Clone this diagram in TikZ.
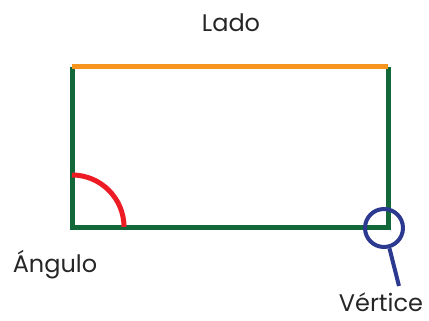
\documentclass[tikz,border=0pt]{standalone}
\usepackage{fontspec}
\setmainfont{Poppins}
\usepackage{tikz}
\usetikzlibrary{positioning}
\definecolor{SDgreen}{RGB}{18,104,56}
\definecolor{SDorange}{RGB}{247,148,29}
\definecolor{SDred}{RGB}{237,28,36}
\definecolor{SDblue}{RGB}{43,57,144}

\begin{document}
\begin{tikzpicture}[x=1pt, y=-1pt,
    lbl/.style={anchor=base, inner sep=0pt, font=\fontsize{24}{28}\selectfont, text=black!85}]
  \useasboundingbox (0,0) rectangle (429,321);
  \coordinate (tl) at (72,67);
  \coordinate (tr) at (388,67);
  \coordinate (bl) at (72,227);
  \coordinate (br) at (388,227);
  % sides
  \draw[SDgreen, line width=5pt] (tl) -- (bl) -- (br) -- (tr);
  \draw[SDorange, line width=5pt] (tl) -- (tr);
  % angle
  \draw[SDred, line width=5pt] (bl) ++(0,-52) arc[start angle=-90, end angle=0, radius=52];
  % vertex
  \node[draw=SDblue, line width=4pt, circle, minimum size=38pt, inner sep=0pt] (vert) at (384,228) {};
  \coordinate (vtail) at (399,286);
  \draw[SDblue, line width=4pt] (vert.-75) -- (vtail);
  % labels
  \node[lbl] (lado) at (231,32) {Lado};
  \node[lbl] (angulo) at (55,272) {Ángulo};
  \node[lbl] (vertice) at (381,311) {Vértice};
\end{tikzpicture}
\end{document}
